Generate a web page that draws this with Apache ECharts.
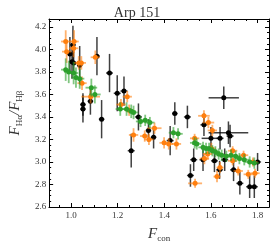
<!DOCTYPE html>
<html><head><meta charset="utf-8">
<script src="https://cdn.jsdelivr.net/npm/echarts@6/dist/echarts.min.js"></script>
<style>html,body{margin:0;padding:0;background:#fff}#c{width:274px;height:248px}</style>
</head><body><div id="c"></div>
<script>
const xMajorTicks = [1.0, 1.2, 1.4, 1.6, 1.8];
const xMinorTicks = [0.95, 1.05, 1.1, 1.15, 1.25, 1.3, 1.35, 1.45, 1.5, 1.55, 1.65, 1.7, 1.75, 1.85];

const blackX = [0.995,1.008,1.004,1.011,1.037,1.051,1.051,1.083,1.111,1.131,1.165,1.198,1.227,1.258,1.289,1.332,1.354,1.425,1.445,1.499,1.512,1.526,1.566,1.57,1.6,1.615,1.637,1.639,1.655,1.659,1.675,1.682,1.697,1.724,1.766,1.786,1.8];
const blackY = [3.96,4.04,3.89,3.88,3.86,3.51,3.47,3.54,3.94,3.38,3.79,3.61,3.63,3.10,3.40,3.28,3.22,3.19,3.43,3.40,2.88,3.02,3.02,3.33,3.21,3.01,2.93,3.21,3.57,3.02,3.26,3.23,2.93,2.81,2.78,2.78,3.0];
const blackXErr = [0.012,0.012,0.012,0.012,0.012,0.012,0.012,0.012,0.012,0.012,0.015,0.015,0.015,0.015,0.015,0.012,0.012,0.015,0.012,0.015,0.015,0.015,0.015,0.015,0.04,0.015,0.015,0.015,0.065,0.015,0.085,0.015,0.015,0.015,0.015,0.015,0.015];
const blackYErr = [0.15,0.17,0.15,0.1,0.17,0.1,0.12,0.12,0.17,0.17,0.17,0.16,0.13,0.15,0.12,0.1,0.1,0.13,0.1,0.1,0.1,0.1,0.1,0.1,0.1,0.1,0.08,0.1,0.1,0.1,0.1,0.1,0.1,0.1,0.1,0.1,0.08];

const orangeX = [0.977,0.981,1.013,1.011,1.033,1.044,1.047,1.084,1.104,1.214,1.241,1.249,1.268,1.316,1.334,1.358,1.399,1.419,1.452,1.53,1.57,1.589,1.606,1.532,1.572,1.586,1.602,1.626,1.639,1.693,1.693,1.717,1.74,1.76,1.789,1.78];
const orangeY = [4.07,3.98,4.07,4.01,3.88,3.88,3.70,3.58,3.93,3.51,3.58,3.46,3.24,3.23,3.20,3.30,3.17,3.16,3.16,3.21,3.41,3.35,3.28,2.81,3.03,3.07,3.12,2.87,2.95,3.10,3.01,2.92,3.06,2.89,2.90,3.0];
const orangeXErr = [0.02,0.02,0.02,0.02,0.02,0.02,0.02,0.04,0.02,0.02,0.02,0.02,0.02,0.02,0.02,0.03,0.02,0.02,0.02,0.02,0.025,0.025,0.02,0.03,0.02,0.02,0.02,0.015,0.015,0.02,0.02,0.02,0.02,0.02,0.02,0.02];
const orangeYErr = [0.1,0.1,0.1,0.08,0.06,0.06,0.06,0.06,0.06,0.05,0.05,0.05,0.06,0.05,0.05,0.05,0.05,0.05,0.05,0.04,0.05,0.05,0.05,0.04,0.05,0.05,0.05,0.05,0.05,0.04,0.04,0.04,0.04,0.04,0.04,0.04];

const greenX = [0.977,0.99,1.011,1.021,1.037,1.087,1.102,1.211,1.238,1.258,1.268,1.298,1.318,1.338,1.439,1.459,1.53,1.539,1.566,1.579,1.592,1.606,1.619,1.633,1.646,1.666,1.686,1.706,1.722,1.743,1.766,1.786];
const greenY = [3.82,3.80,3.79,3.75,3.74,3.66,3.60,3.47,3.47,3.45,3.44,3.36,3.37,3.35,3.26,3.25,3.17,3.16,3.13,3.12,3.12,3.10,3.09,3.07,3.06,3.05,3.06,3.05,3.03,3.02,3.0,2.99];
const greenXErr = [0.02,0.02,0.02,0.02,0.02,0.025,0.025,0.02,0.02,0.02,0.02,0.02,0.02,0.02,0.02,0.02,0.02,0.02,0.02,0.02,0.02,0.02,0.02,0.02,0.02,0.02,0.02,0.02,0.02,0.02,0.02,0.02];
const greenYErr = [0.1,0.1,0.1,0.09,0.09,0.08,0.08,0.06,0.06,0.06,0.06,0.05,0.05,0.05,0.05,0.05,0.05,0.05,0.05,0.05,0.05,0.05,0.05,0.05,0.05,0.05,0.05,0.05,0.05,0.05,0.05,0.05];

const FONT = 'Liberation Serif';

function errSeries(xs, ys, exs, eys, color, lw, z) {
  return {
    type: 'custom', xAxisIndex: 0, yAxisIndex: 0, z: z, silent: true,
    data: xs.map((x, i) => [x, ys[i], exs[i], eys[i]]),
    encode: { x: 0, y: 1 },
    renderItem: function (params, api) {
      const x = api.value(0), y = api.value(1), ex = api.value(2), ey = api.value(3);
      const a = api.coord([x - ex, y]), b = api.coord([x + ex, y]);
      const c = api.coord([x, y - ey]), d = api.coord([x, y + ey]);
      const st = { stroke: color, lineWidth: lw };
      return { type: 'group', children: [
        { type: 'line', shape: { x1: a[0], y1: a[1], x2: b[0], y2: b[1] }, style: st },
        { type: 'line', shape: { x1: c[0], y1: c[1], x2: d[0], y2: d[1] }, style: st }
      ]};
    }
  };
}
function ptSeries(xs, ys, color, z) {
  return { type: 'scatter', xAxisIndex: 0, yAxisIndex: 0, z: z, symbolSize: 5,
    itemStyle: { color: color, opacity: 1 },
    data: xs.map((x, i) => [x, ys[i]]) };
}

const XMIN = 0.906, XMAX = 1.849, YMIN = 2.6, YMAX = 4.27;
const lineStyle = { color: '#000', width: 1 };
function xAx(pos, ticks, len, labels) {
  return { type: 'value', position: pos, min: XMIN, max: XMAX, gridIndex: 0,
    axisLine: { show: true, onZero: false, lineStyle: lineStyle },
    axisTick: { show: true, inside: true, length: len, customValues: ticks, lineStyle: { color: '#000', width: 1 } },
    axisLabel: labels ? { show: true, customValues: ticks, formatter: v => v.toFixed(1), fontFamily: FONT, fontSize: 9, color: '#333', margin: 4 } : { show: false },
    splitLine: { show: false } };
}
function yAx(pos, labels) {
  return { type: 'value', position: pos, min: YMIN, max: YMAX, interval: 0.2, gridIndex: 0,
    axisLine: { show: true, onZero: false, lineStyle: lineStyle },
    axisTick: { show: true, inside: true, length: 4, lineStyle: { color: '#000', width: 1 } },
    minorTick: { show: true, splitNumber: 4, length: 2, lineStyle: { color: '#000', width: 1 } },
    axisLabel: labels ? { show: true, formatter: v => v.toFixed(1), fontFamily: FONT, fontSize: 9, color: '#333', margin: 3, showMaxLabel: false } : { show: false },
    splitLine: { show: false } };
}

const xAxes = [xAx('bottom', xMajorTicks, 4, true), xAx('bottom', xMinorTicks, 2, false), xAx('top', xMajorTicks, 4, false), xAx('top', xMinorTicks, 2, false)];
xAxes[0].name = '{i|F}{s|con}';
xAxes[0].nameLocation = 'middle';
xAxes[0].nameGap = 19;
xAxes[0].nameTextStyle = { rich: { i: { fontFamily: FONT, fontStyle: 'italic', fontSize: 15, color: '#333' }, s: { fontFamily: FONT, fontSize: 9, color: '#333', verticalAlign: 'bottom', padding: [8, 0, 0, 0] } } };
const yAxes = [yAx('left', true), yAx('right', false)];
yAxes[0].name = '{i|F}{s|Hα}{i|/F}{s|Hβ}';
yAxes[0].nameLocation = 'middle';
yAxes[0].nameGap = 22;
yAxes[0].nameRotate = 90;
yAxes[0].nameTextStyle = { rich: { i: { fontFamily: FONT, fontStyle: 'italic', fontSize: 15, color: '#333' }, s: { fontFamily: FONT, fontSize: 9, color: '#333', padding: [8, 0, 0, 0] } } };

const chart = echarts.init(document.getElementById('c'), null, { renderer: 'canvas' });
chart.setOption({
  animation: false,
  backgroundColor: '#fff',
  title: { text: 'Arp 151', left: 'center', top: 1, textStyle: { fontFamily: FONT, fontSize: 14, fontWeight: 'normal', color: '#333' } },
  grid: { left: 34, right: 5, top: 19, bottom: 30, containLabel: false },
  xAxis: xAxes,
  yAxis: yAxes,
  series: [
    errSeries(blackX, blackY, blackXErr, blackYErr, 'rgba(0,0,0,0.75)', 1.5, 2),
    ptSeries(blackX, blackY, '#000', 3),
    errSeries(orangeX, orangeY, orangeXErr, orangeYErr, 'rgba(255,127,14,0.6)', 1.8, 4),
    ptSeries(orangeX, orangeY, '#ff7f0e', 5),
    errSeries(greenX, greenY, greenXErr, greenYErr, 'rgba(44,160,44,0.6)', 1.8, 6),
    ptSeries(greenX, greenY, '#2ca02c', 7)
  ]
});
</script></body></html>
